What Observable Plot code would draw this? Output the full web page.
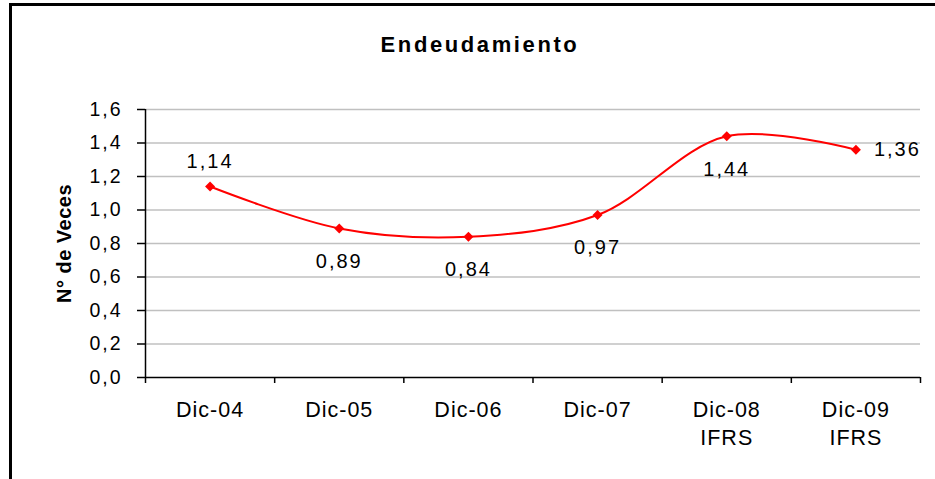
<!DOCTYPE html>
<html>
<head>
<meta charset="utf-8">
<script src="https://cdn.jsdelivr.net/npm/d3@7"></script>
<script src="https://cdn.jsdelivr.net/npm/@observablehq/plot@0.6"></script>
<style>
  html, body { margin: 0; padding: 0; background: #fff; }
  #wrap { position: relative; width: 935px; height: 479px; overflow: hidden; background: #fff;
          font-family: "Liberation Sans", Arial, sans-serif; }
  #frame { position: absolute; left: 9px; top: 3px; right: -20px; bottom: -20px;
           border-top: 3px solid #000; border-left: 3px solid #000; }
  #title { position: absolute; left: 0; top: 34px; width: 960px; text-align: center;
           font-size: 22px; line-height: 21px; font-weight: bold; letter-spacing: 2.6px; color: #000; }
  #chart { position: absolute; left: 0; top: 70px; }
</style>
</head>
<body>
<div id="wrap">
  <div id="frame"></div>
  <div id="title">Endeudamiento</div>
  <div id="chart"></div>
</div>
<script>
const categories = ["Dic-04", "Dic-05", "Dic-06", "Dic-07", "Dic-08\nIFRS", "Dic-09\nIFRS"];
const values = [1.14, 0.89, 0.84, 0.97, 1.44, 1.36];
const yTicks = [0, 0.2, 0.4, 0.6, 0.8, 1.0, 1.2, 1.4, 1.6];
const labelPos = ["above", "below", "below", "below", "below", "right"];
const yTitle = "N° de Veces";

const fmt1 = d => d.toFixed(1).replace(".", ",");
const fmt2 = d => d.toFixed(2).replace(".", ",");

const data = categories.map((c, i) => ({cat: c, x: i + 0.5, v: values[i], pos: labelPos[i]}));
const boundaries = d3.range(categories.length + 1);

const plot = Plot.plot({
  width: 935,
  height: 409,
  marginTop: 39,
  marginBottom: 102,
  marginLeft: 145,
  marginRight: 15,
  style: {fontFamily: '"Liberation Sans", Arial, sans-serif', color: "#000", background: "transparent",
          overflow: "visible", letterSpacing: "2px"},
  x: {domain: [0, categories.length], axis: null},
  y: {domain: [0, 1.6], axis: null},
  marks: [
    Plot.gridY(yTicks.slice(1), {stroke: "#c0c0c0", strokeOpacity: 1, strokeWidth: 1.5}),
    Plot.axisY(yTicks, {tickSize: 8, tickPadding: 15, tickFormat: fmt1, fontSize: 19.5, strokeWidth: 1.5, label: null}),
    Plot.axisX(boundaries, {tickSize: 6, tickFormat: () => "", strokeWidth: 1.5, label: null}),
    Plot.ruleY([0], {stroke: "#000", strokeWidth: 1.5}),
    Plot.ruleX([0], {stroke: "#000", strokeWidth: 1.5}),
    Plot.text(data, {x: "x", text: "cat", frameAnchor: "bottom", lineAnchor: "top", dy: 20,
                     fontSize: 21.5, lineHeight: 1.3, fill: "#000"}),
    Plot.text([yTitle], {text: d => d, frameAnchor: "left", textAnchor: "middle", dx: -81, rotate: -90,
                         fontSize: 20, fontWeight: "bold", fill: "#000"}),
    Plot.line(data, {x: "x", y: "v", stroke: "#ff0000", strokeWidth: 2, curve: "catmull-rom"}),
    Plot.dot(data, {x: "x", y: "v", symbol: "diamond2", r: 4.5, fill: "#ff0000", stroke: "none"}),
    Plot.text(data, {filter: d => d.pos === "above", x: "x", y: "v", text: d => fmt2(d.v),
                     dy: -25, fontSize: 20, fill: "#000"}),
    Plot.text(data, {filter: d => d.pos === "below", x: "x", y: "v", text: d => fmt2(d.v),
                     dy: 33, fontSize: 20, fill: "#000"}),
    Plot.text(data, {filter: d => d.pos === "right", x: "x", y: "v", text: d => fmt2(d.v),
                     dx: 18, dy: 0, textAnchor: "start", fontSize: 20, fill: "#000"})
  ]
});
// per-group letter spacing tweaks
const sel = d3.select(plot).selectAll("text");
sel.filter(function () { return this.textContent === yTitle; }).style("letter-spacing", "0.5px");
const catFlat = categories.map(c => c.replace("\n", ""));
sel.filter(function () { return catFlat.includes(this.textContent); })
  .style("letter-spacing", "1px");
document.getElementById("chart").appendChild(plot);
</script>
</body>
</html>
